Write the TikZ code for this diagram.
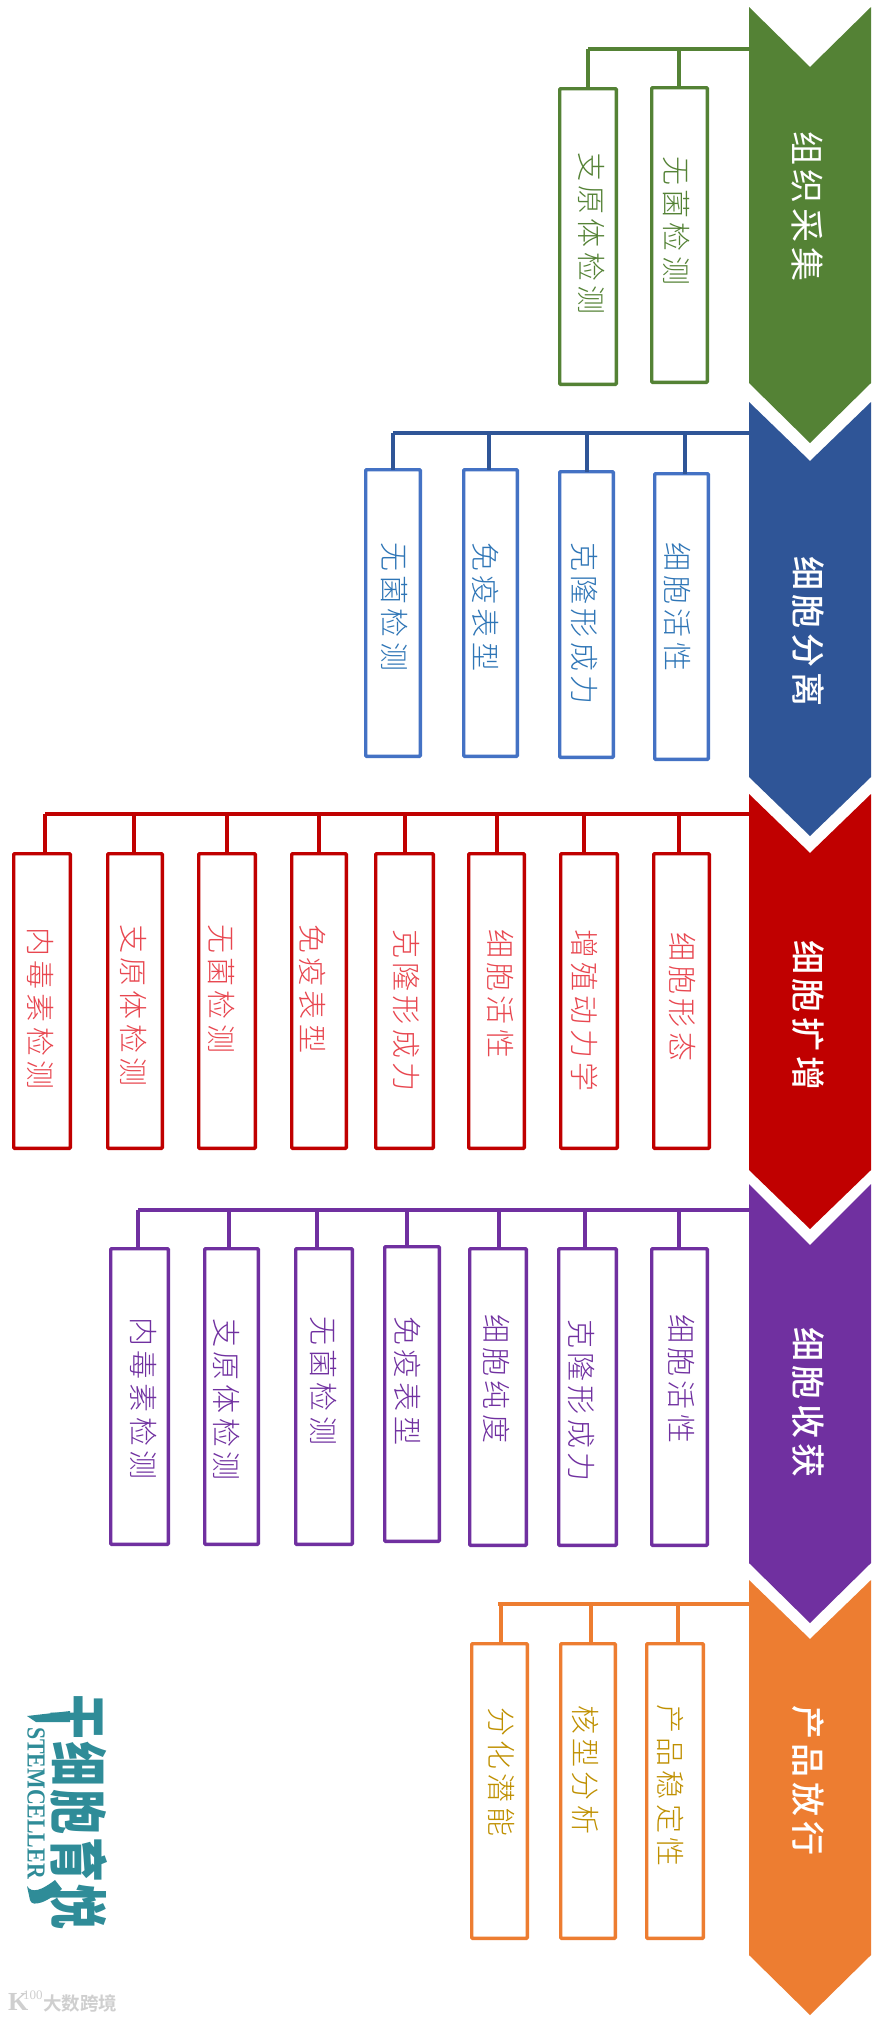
\documentclass[tikz,border=0pt]{standalone}
\usepackage{fontspec}
\newfontfamily\lightcjk[LetterSpace=15]{Noto Sans CJK SC Light}
\newfontfamily\titlecjk[LetterSpace=14]{Noto Sans CJK SC Medium}
\newfontfamily\titlelight[LetterSpace=14]{Noto Sans CJK SC}
\newfontfamily\logocjk[LetterSpace=6]{Noto Sans CJK SC Black}
\newfontfamily\wmcjk{Noto Sans CJK SC Bold}
\setmainfont{Liberation Serif}
\definecolor{cgreen}{HTML}{548235}
\definecolor{cblue}{HTML}{2F5597}
\definecolor{cblueb}{HTML}{4472C4}
\definecolor{cbluet}{HTML}{2E75B6}
\definecolor{cred}{HTML}{C00000}
\definecolor{credt}{HTML}{E8464F}
\definecolor{cpurple}{HTML}{7030A0}
\definecolor{corange}{HTML}{ED7D31}
\definecolor{cgold}{HTML}{BF9000}
\definecolor{cteal}{HTML}{2F8C98}
\definecolor{cwm}{HTML}{CFCFCF}
\tikzset{
  testbox/.style={draw,line width=3.4pt,fill=white,inner sep=0pt,outer sep=0pt,rounded corners=0.8pt},
  stemline/.style={line width=3.2pt},
  testlabel/.style={inner sep=0pt,outer sep=0pt,rotate=-90,anchor=west,font=\fontsize{29}{32}\lightcjk},
  titlelabel/.style={inner sep=0pt,outer sep=0pt,rotate=-90,anchor=west,text=white,font=\fontsize{34}{38}\titlecjk},
}
% name, x0, x1, y0, y1, stem x, text x, text y, text
\newcommand{\tbx}[9]{%
  \node[testbox,minimum width={#3-#2-3.4},minimum height={#5-#4-3.4}] (#1) at ({(#2+#3)/2},{(#4+#5)/2}) {};
  \node[testlabel] (#1t) at (#7,#8) {#9};
  \coordinate (#1s) at (#6,0);
  \draw[stemline] (#1s |- \curbus) -- (#1s |- #1.north);
}
% colour, top, notch, side, tip
\newcommand{\chev}[5]{\fill[#1] (749,#2) -- (810,#3) -- (871,#2) -- (871,#4) -- (810,#5) -- (749,#4) -- cycle;}
\begin{document}
\begin{tikzpicture}[x=1pt,y=-1pt]
\useasboundingbox (0,0) rectangle (887,2019);
\fill[white] (0,0) rectangle (887,2019);

% ---------- green
\chev{cgreen}{7}{67}{383}{443}
\node[titlelabel,font=\fontsize{34}{38}\titlelight] (gt) at (807,131) {组织采集};
\begin{scope}[testbox/.append style={draw=cgreen},stemline/.append style={draw=cgreen},testlabel/.append style={text=cgreen}]
\coordinate (gR) at (749,49); \coordinate (gL) at (588,49);
\draw[stemline] (gR) -- (gL);
\def\curbus{gR}
\tbx{g1}{650}{709}{86}{384}{679}{677}{156}{无菌检测}
\tbx{g2}{558}{618}{87}{386}{588}{592}{152}{支原体检测}
\end{scope}

% ---------- blue
\chev{cblue}{402}{461}{777}{836}
\node[titlelabel] (bt) at (808,556) {细胞分离};
\begin{scope}[testbox/.append style={draw=cblueb},stemline/.append style={draw=cblue},testlabel/.append style={text=cbluet}]
\coordinate (bR) at (749,433); \coordinate (bL) at (393,433);
\draw[stemline] (bR) -- (bL);
\def\curbus{bR}
\tbx{b1}{653}{710}{472}{761}{685}{678}{542}{细胞活性}
\tbx{b2}{558}{615}{470}{759}{587}{584}{542}{克隆形成力}
\tbx{b3}{462}{519}{468}{758}{489}{486}{542}{免疫表型}
\tbx{b4}{364}{422}{468}{758}{393}{395}{542}{无菌检测}
\end{scope}

% ---------- red
\chev{cred}{794}{853}{1170}{1229}
\node[titlelabel] (rt) at (808,940) {细胞扩增};
\begin{scope}[testbox/.append style={draw=cred},stemline/.append style={draw=cred},testlabel/.append style={text=credt}]
\coordinate (rR) at (749,814); \coordinate (rL) at (45,814);
\draw[stemline] (rR) -- (rL);
\def\curbus{rR}
\tbx{r1}{652}{711}{852}{1150}{679}{682}{932}{细胞形态}
\tbx{r2}{559}{619}{852}{1150}{584}{585}{929}{增殖动力学}
\tbx{r3}{467}{526}{852}{1150}{497}{501}{929}{细胞活性}
\tbx{r4}{374}{435}{852}{1150}{405}{406}{929}{克隆形成力}
\tbx{r5}{290}{348}{852}{1150}{319}{313}{924}{免疫表型}
\tbx{r6}{197}{257}{852}{1150}{227}{222}{924}{无菌检测}
\tbx{r7}{106}{164}{852}{1150}{134}{134}{924}{支原体检测}
\tbx{r8}{12}{72}{852}{1150}{45}{41}{927}{内毒素检测}
\end{scope}

% ---------- purple
\chev{cpurple}{1184}{1245}{1563}{1623}
\node[titlelabel] (pt) at (808,1327) {细胞收获};
\begin{scope}[testbox/.append style={draw=cpurple},stemline/.append style={draw=cpurple},testlabel/.append style={text=cpurple}]
\coordinate (pR) at (749,1210); \coordinate (pL) at (138,1210);
\draw[stemline] (pR) -- (pL);
\def\curbus{pR}
\tbx{p1}{650}{709}{1247}{1547}{679}{682}{1314}{细胞活性}
\tbx{p2}{557}{618}{1247}{1547}{585}{581}{1319}{克隆形成力}
\tbx{p3}{468}{528}{1247}{1547}{499}{497}{1314}{细胞纯度}
\tbx{p4}{383}{441}{1245}{1543}{407}{408}{1316}{免疫表型}
\tbx{p5}{294}{354}{1247}{1546}{317}{324}{1316}{无菌检测}
\tbx{p6}{203}{260}{1247}{1546}{229}{227}{1318}{支原体检测}
\tbx{p7}{109}{170}{1247}{1546}{138}{144}{1317}{内毒素检测}
\end{scope}

% ---------- orange
\chev{corange}{1580}{1639}{1955}{2015}
\node[titlelabel] (ot) at (808,1705) {产品放行};
\begin{scope}[testbox/.append style={draw=corange},stemline/.append style={draw=corange},testlabel/.append style={text=cgold}]
\coordinate (oR) at (749,1604); \coordinate (oL) at (498,1604);
\draw[stemline] (oR) -- (oL);
\def\curbus{oR}
\tbx{o1}{645}{705}{1642}{1940}{678}{671}{1704}{产品稳定性}
\tbx{o2}{559}{617}{1642}{1940}{591}{585}{1705}{核型分析}
\tbx{o3}{470}{529}{1642}{1940}{501}{502}{1707}{分化潜能}
\end{scope}

% ---------- logo
\node[inner sep=0pt,rotate=-90,anchor=west,text=cteal,yscale=1.3,font=\fontsize{45}{48}\logocjk] (logocn) at (79,1694) {干细胞育悦};
\node[inner sep=0pt,rotate=-90,anchor=west,text=cteal,xscale=0.84,font=\bfseries\fontsize{26}{28}\selectfont] (logoen) at (36,1727) {STEMCELLER};
\fill[cteal] (27,1716) -- (70,1711) -- (70,1722) -- (36,1722) -- cycle;
\fill[cteal] (27,1886) .. controls (32,1894) and (42,1890) .. (55,1880) -- (62,1889) .. controls (48,1902) and (32,1908) .. (30,1900) -- cycle;

% ---------- watermark
\node[inner sep=0pt,anchor=west,text=cwm,font=\bfseries\fontsize{26}{26}\selectfont] (wmk) at (8,2002) {K};
\node[inner sep=0pt,anchor=west,text=cwm,font=\fontsize{13}{13}\selectfont] (wm100) at (23,1995) {100};
\node[inner sep=0pt,anchor=west,text=cwm,font=\fontsize{18.5}{18.5}\wmcjk] (wmtxt) at (43,2003) {大数跨境};
\end{tikzpicture}
\end{document}
